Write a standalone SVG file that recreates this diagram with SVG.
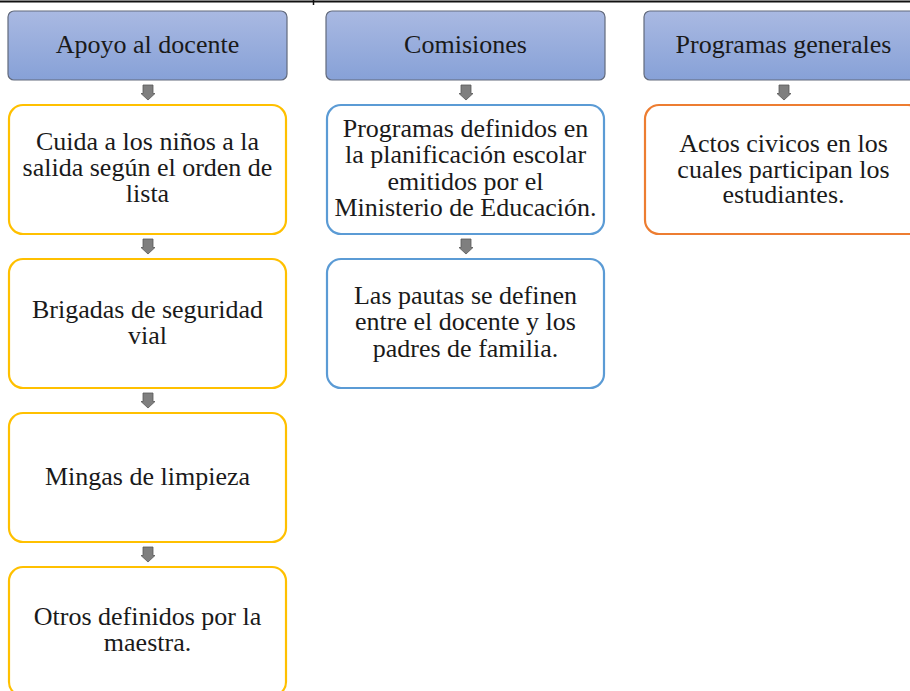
<svg xmlns="http://www.w3.org/2000/svg" width="910" height="691" viewBox="0 0 910 691">
  <defs>
    <linearGradient id="hdr" x1="0" y1="0" x2="0" y2="1">
      <stop offset="0" stop-color="#a9b9e2"/>
      <stop offset="1" stop-color="#87a1d7"/>
    </linearGradient>
    <path id="arr" d="M-5,0 H5 V8.5 H7 L0,15 L-7,8.5 H-5 Z"/>
  </defs>
  <style>
    .hdr { fill: url(#hdr); stroke: #626a7c; stroke-width: 1.2; }
    .box { fill: #ffffff; stroke-width: 2.2; }
    .y { stroke: #ffc000; }
    .b { stroke: #5b9bd5; }
    .o { stroke: #ed7d31; }
    text { font-family: "Liberation Serif", "Times New Roman", serif; font-size: 26px; fill: #1a1a1a; text-anchor: middle; }
    .arrow { fill: #7f7f7f; stroke: #595959; stroke-width: 0.8; }
  </style>
  <rect width="910" height="691" fill="#ffffff"/>
  <g id="frame">
    <line x1="0" y1="1.5" x2="910" y2="1.5" stroke="#111" stroke-width="2"/>
    <line x1="313.5" y1="0" x2="313.5" y2="5" stroke="#111" stroke-width="1.5"/>
  </g>

  <g id="connectors">
    <use href="#arr" class="arrow" x="148" y="85"/>
    <use href="#arr" class="arrow" x="148" y="239"/>
    <use href="#arr" class="arrow" x="148" y="393"/>
    <use href="#arr" class="arrow" x="148" y="547"/>
    <use href="#arr" class="arrow" x="466" y="85"/>
    <use href="#arr" class="arrow" x="466" y="239"/>
    <use href="#arr" class="arrow" x="784" y="85"/>
  </g>

  <g id="h1">
    <rect class="hdr" x="8" y="11" width="279" height="69" rx="6"/>
    <text x="147.5" y="53">Apoyo al docente</text>
  </g>
  <g id="h2">
    <rect class="hdr" x="326" y="11" width="279" height="69" rx="6"/>
    <text x="465.5" y="53">Comisiones</text>
  </g>
  <g id="h3">
    <rect class="hdr" x="644" y="11" width="279" height="69" rx="6"/>
    <text x="783.5" y="53">Programas generales</text>
  </g>

  <g id="c1n1">
    <rect class="box y" x="9" y="105" width="277" height="129" rx="14"/>
    <text x="147.5" y="150">Cuida a los niños a la</text>
    <text x="147.5" y="176">salida según el orden de</text>
    <text x="147.5" y="202">lista</text>
  </g>
  <g id="c1n2">
    <rect class="box y" x="9" y="259" width="277" height="129" rx="14"/>
    <text x="147.5" y="318">Brigadas de seguridad</text>
    <text x="147.5" y="344">vial</text>
  </g>
  <g id="c1n3">
    <rect class="box y" x="9" y="413" width="277" height="129" rx="14"/>
    <text x="147.5" y="485">Mingas de limpieza</text>
  </g>
  <g id="c1n4">
    <rect class="box y" x="9" y="567" width="277" height="129" rx="14"/>
    <text x="147.5" y="625">Otros definidos por la</text>
    <text x="147.5" y="651">maestra.</text>
  </g>

  <g id="c2n1">
    <rect class="box b" x="327" y="105" width="277" height="129" rx="14"/>
    <text x="465.5" y="137">Programas definidos en</text>
    <text x="465.5" y="163">la planificación escolar</text>
    <text x="465.5" y="190">emitidos por el</text>
    <text x="465.5" y="216">Ministerio de Educación.</text>
  </g>
  <g id="c2n2">
    <rect class="box b" x="327" y="259" width="277" height="129" rx="14"/>
    <text x="465.5" y="304">Las pautas se definen</text>
    <text x="465.5" y="330">entre el docente y los</text>
    <text x="465.5" y="357">padres de familia.</text>
  </g>

  <g id="c3n1">
    <rect class="box o" x="645" y="105" width="277" height="129" rx="14"/>
    <text x="783.5" y="152">Actos civicos en los</text>
    <text x="783.5" y="178">cuales participan los</text>
    <text x="783.5" y="203">estudiantes.</text>
  </g>
</svg>
